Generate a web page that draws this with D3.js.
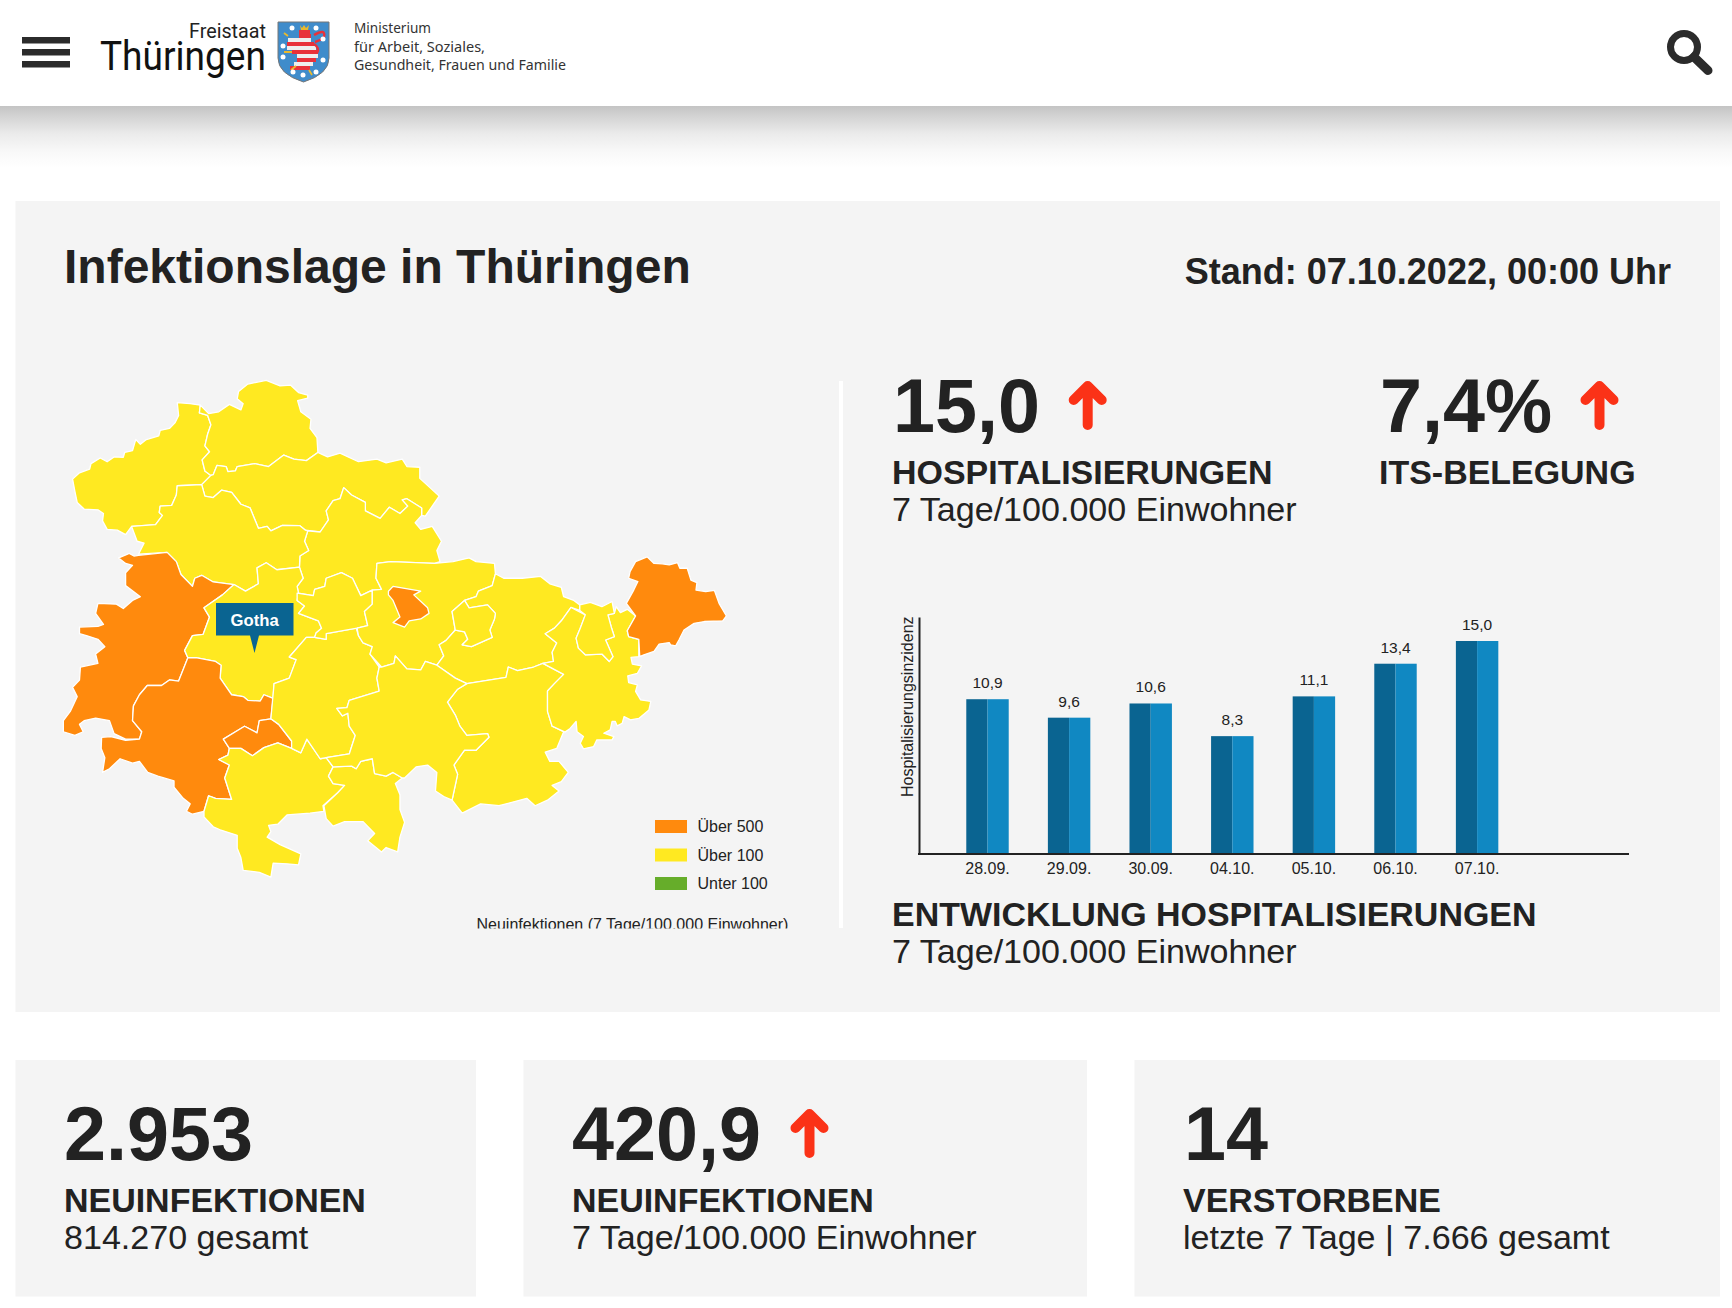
<!DOCTYPE html>
<html lang="de">
<head>
<meta charset="utf-8">
<title>Infektionslage in Thüringen</title>
<script src="https://cdn.jsdelivr.net/npm/d3@7"></script>
<style>
  html, body { margin: 0; background: #fff; }
  svg { display: block; font-family: "Liberation Sans", Arial, sans-serif; }
  .ink { fill: #222; }
  .bold { font-weight: 700; }
</style>
</head>
<body>
<div id="chart"></div>
<script>
// hospitalisation chart data
let dates = ["28.09.", "29.09.", "30.09.", "04.10.", "05.10.", "06.10.", "07.10."];
let hospValues = [10.9, 9.6, 10.6, 8.3, 11.1, 13.4, 15.0];

// legend
let legendLabels = ["Über 500", "Über 100", "Unter 100"];
let legendColors = ["#ff8a0d", "#ffe921", "#66ad2a"];

// map: one level per district (index into legendLabels), outlines in traced map units
let districtNames = ["Eichsfeld", "Nordhausen", "Kyffhäuser", "Sömmerda", "Unstrut-Hainich", "Wartburgkreis",
  "Gotha", "Schmalkalden-Meiningen", "Suhl", "Hildburghausen", "Sonneberg", "Ilm-Kreis", "Erfurt", "Weimarer Land",
  "Weimar", "Saale-Holzland", "Jena", "Saale-Orla", "Saalfeld-Rudolstadt", "Greiz", "Gera", "Altenburger Land"];
let districtLevels = [1, 1, 1, 1, 1, 0, 1, 0, 0, 1, 1, 1, 1, 1, 0, 1, 1, 1, 1, 1, 1, 0];
let districtOutlines = [
  [[352,122],[330,118],[302,115],[305,150],[297,170],[285,185],[265,190],[262,205],[235,215],[222,228],[212,215],[205,245],[188,250],[185,263],[165,262],[150,275],[135,265],[115,280],[112,295],[90,305],[75,322],[80,355],[85,385],[100,403],[130,405],[142,415],[140,435],[150,458],[172,460],[190,472],[203,450],[255,445],[270,420],[263,412],[265,395],[290,393],[300,365],[302,340],[355,337],[375,312],[362,300],[356,270],[372,248],[362,232],[368,200],[375,175],[368,150],[350,143]],
  [[352,122],[370,145],[392,140],[415,120],[440,135],[445,118],[432,105],[435,85],[455,65],[495,55],[525,70],[548,68],[565,88],[585,95],[585,103],[563,110],[570,140],[592,160],[590,185],[605,210],[607,250],[582,272],[555,268],[533,257],[500,288],[470,280],[432,288],[428,300],[412,302],[408,288],[388,285],[380,310],[375,312],[362,300],[356,270],[372,248],[362,232],[368,200],[375,175],[368,150],[350,143]],
  [[375,312],[380,310],[388,285],[408,288],[412,302],[428,300],[432,288],[470,280],[500,288],[533,257],[555,268],[582,272],[607,250],[628,262],[655,252],[695,275],[735,268],[755,278],[790,268],[800,288],[828,290],[828,320],[850,345],[870,368],[855,395],[840,422],[832,420],[832,400],[800,375],[790,378],[802,395],[785,415],[762,398],[742,428],[710,408],[710,385],[680,365],[663,345],[655,375],[640,380],[625,408],[630,432],[612,465],[580,460],[568,448],[530,447],[505,462],[497,450],[478,455],[460,400],[440,390],[420,358],[398,352],[380,372],[362,368],[355,337]],
  [[663,345],[680,365],[710,385],[710,408],[742,428],[762,398],[785,415],[802,395],[790,378],[800,375],[832,400],[832,420],[818,440],[830,458],[855,450],[875,490],[865,515],[872,545],[860,550],[765,545],[735,550],[733,590],[745,620],[725,622],[700,637],[682,590],[658,575],[625,590],[622,612],[600,620],[597,637],[565,630],[562,612],[575,590],[567,560],[568,530],[587,515],[578,490],[585,462],[612,465],[630,432],[625,408],[640,380],[655,375]],
  [[203,450],[255,445],[270,420],[263,412],[265,395],[290,393],[300,365],[302,340],[355,337],[362,368],[380,372],[398,352],[420,358],[440,390],[460,400],[478,455],[497,450],[505,462],[530,447],[568,448],[580,460],[585,462],[578,490],[587,515],[568,530],[567,560],[518,567],[495,548],[475,562],[478,605],[450,625],[425,607],[380,600],[355,582],[340,590],[335,612],[310,580],[300,545],[280,520],[218,525],[230,495],[215,490]],
  [[218,528],[280,520],[300,545],[310,580],[335,612],[340,590],[355,582],[380,600],[425,607],[400,635],[360,670],[372,695],[358,742],[335,745],[318,785],[325,805],[305,868],[285,865],[268,880],[237,880],[220,905],[207,935],[205,975],[225,1005],[220,1025],[190,1025],[165,1010],[155,975],[125,968],[100,975],[90,985],[98,1005],[80,1015],[55,1005],[55,975],[70,950],[85,910],[75,885],[90,865],[92,830],[130,820],[125,795],[145,775],[130,755],[105,745],[90,740],[90,722],[130,720],[142,715],[125,685],[130,658],[170,660],[185,672],[205,650],[222,640],[190,610],[190,575],[205,555],[190,550],[175,535],[198,523],[208,530]],
  [[425,607],[450,625],[478,605],[475,562],[495,548],[518,567],[567,560],[575,590],[562,612],[565,630],[562,650],[578,665],[565,685],[608,705],[615,725],[603,738],[600,750],[582,750],[545,803],[560,810],[545,860],[512,875],[510,915],[490,905],[482,922],[455,920],[445,910],[420,905],[395,860],[397,825],[385,815],[345,805],[325,805],[318,785],[335,745],[358,742],[372,695],[360,670],[400,635]],
  [[325,805],[345,805],[385,815],[397,825],[395,860],[420,905],[445,910],[455,920],[482,922],[490,905],[510,915],[505,970],[480,975],[475,1008],[448,990],[402,1025],[415,1050],[412,1068],[392,1080],[415,1095],[405,1130],[420,1188],[385,1185],[370,1178],[360,1220],[335,1228],[322,1220],[330,1200],[315,1185],[295,1155],[295,1138],[260,1125],[238,1115],[220,1085],[205,1090],[178,1078],[155,1105],[140,1115],[145,1075],[137,1050],[138,1020],[158,1018],[190,1028],[220,1025],[225,1005],[205,975],[207,935],[220,905],[237,880],[268,880],[285,865],[305,868]],
  [[402,1025],[448,990],[475,1008],[480,975],[505,970],[522,985],[550,1030],[550,1050],[520,1035],[490,1048],[465,1070],[440,1050],[415,1050]],
  [[415,1050],[440,1050],[465,1070],[490,1048],[520,1035],[550,1050],[570,1062],[583,1025],[612,1078],[625,1075],[640,1100],[630,1125],[640,1145],[665,1150],[650,1170],[618,1205],[620,1220],[590,1225],[540,1230],[520,1255],[500,1258],[505,1275],[497,1290],[525,1310],[570,1335],[565,1365],[540,1362],[510,1360],[505,1398],[480,1385],[445,1380],[440,1345],[432,1320],[432,1285],[395,1270],[380,1262],[360,1235],[360,1220],[370,1178],[385,1185],[420,1188],[405,1130],[415,1095],[392,1080],[412,1068]],
  [[640,1100],[680,1098],[690,1105],[700,1085],[725,1078],[730,1118],[755,1125],[770,1115],[790,1130],[775,1145],[785,1175],[785,1215],[795,1250],[785,1290],[780,1330],[755,1318],[745,1330],[715,1300],[730,1280],[705,1248],[665,1248],[640,1260],[625,1240],[620,1205],[650,1170],[665,1150],[640,1145],[630,1125]],
  [[582,750],[600,750],[625,755],[625,740],[690,725],[695,745],[705,765],[725,775],[720,795],[740,830],[735,860],[740,895],[675,920],[670,940],[648,942],[660,962],[672,955],[675,990],[688,1015],[675,1065],[625,1075],[612,1078],[583,1025],[570,1062],[550,1050],[550,1030],[522,985],[505,970],[512,875],[545,860],[560,810],[545,803]],
  [[562,630],[597,637],[600,620],[622,612],[625,590],[658,575],[682,590],[700,637],[725,622],[725,660],[708,680],[715,718],[692,725],[625,740],[625,755],[600,750],[603,738],[615,725],[608,705],[565,685],[578,665],[562,650]],
  [[735,550],[765,545],[860,550],[900,545],[935,535],[950,545],[990,550],[992,578],[985,610],[955,625],[950,640],[925,650],[898,680],[905,730],[885,758],[870,770],[880,800],[865,825],[840,815],[830,838],[800,835],[775,800],[772,820],[745,830],[720,795],[725,775],[705,765],[695,745],[692,725],[715,718],[708,680],[725,660],[725,622],[745,620],[733,590]],
  [[760,625],[770,612],[830,625],[815,635],[845,670],[848,685],[830,700],[805,705],[795,722],[770,710],[785,695],[770,650],[760,635]],
  [[992,578],[1010,590],[1050,590],[1090,585],[1110,605],[1135,615],[1140,640],[1162,650],[1175,662],[1175,677],[1156,669],[1135,705],[1120,725],[1100,740],[1125,765],[1115,790],[1118,815],[1095,820],[1075,830],[1040,840],[1020,830],[1015,858],[930,875],[905,860],[865,825],[880,800],[870,770],[885,758],[905,730],[925,735],[932,755],[920,770],[940,775],[985,750],[980,730],[990,700],[992,685],[975,662],[935,670],[925,650],[950,640],[955,625],[985,610]],
  [[925,650],[935,670],[975,662],[992,685],[990,700],[980,730],[985,750],[940,775],[920,770],[932,755],[925,735],[905,730],[898,680]],
  [[1015,858],[1020,830],[1040,840],[1075,830],[1095,820],[1140,850],[1120,875],[1105,895],[1105,950],[1115,990],[1140,1005],[1125,1050],[1100,1060],[1110,1085],[1130,1085],[1150,1115],[1135,1140],[1115,1150],[1130,1165],[1105,1190],[1078,1205],[1060,1185],[1000,1205],[960,1200],[920,1225],[898,1190],[910,1120],[902,1095],[925,1055],[950,1055],[978,1020],[975,1010],[930,1015],[915,990],[905,960],[888,925],[910,890],[930,875]],
  [[740,895],[735,860],[740,830],[745,830],[772,820],[775,800],[800,835],[830,838],[840,815],[865,825],[905,860],[930,875],[910,890],[888,925],[905,960],[915,990],[930,1015],[975,1010],[978,1020],[950,1055],[925,1055],[902,1095],[910,1120],[898,1190],[880,1180],[862,1165],[865,1115],[845,1095],[820,1100],[795,1130],[790,1130],[770,1115],[755,1125],[730,1118],[725,1078],[700,1085],[690,1105],[680,1098],[640,1100],[625,1075],[675,1065],[688,1015],[675,990],[672,955],[660,962],[648,942],[670,940],[675,920]],
  [[1095,820],[1118,815],[1115,790],[1125,765],[1100,740],[1120,725],[1135,705],[1156,669],[1187,689],[1176,725],[1167,752],[1172,779],[1187,797],[1223,795],[1239,815],[1247,802],[1231,757],[1250,748],[1243,721],[1236,689],[1250,685],[1254,667],[1263,683],[1278,674],[1296,692],[1278,732],[1281,748],[1303,755],[1303,802],[1286,804],[1289,822],[1309,827],[1300,847],[1279,854],[1281,872],[1300,878],[1296,896],[1307,919],[1329,923],[1325,946],[1303,969],[1285,973],[1271,964],[1267,982],[1256,989],[1252,977],[1245,977],[1241,1000],[1227,1009],[1249,1018],[1245,1027],[1212,1027],[1205,1045],[1183,1051],[1176,1036],[1183,1018],[1169,1005],[1167,977],[1154,996],[1143,1006],[1115,990],[1105,950],[1105,895],[1120,875],[1140,850]],
  [[1175,662],[1198,655],[1223,667],[1245,653],[1250,685],[1236,689],[1243,721],[1250,748],[1231,757],[1247,802],[1239,815],[1223,795],[1187,797],[1172,779],[1167,752],[1176,725],[1187,689],[1175,677]],
  [[1281,590],[1284,572],[1296,545],[1321,532],[1336,550],[1354,551],[1369,554],[1387,548],[1392,563],[1408,563],[1416,595],[1429,602],[1427,622],[1448,626],[1467,623],[1477,658],[1493,692],[1485,705],[1445,707],[1423,712],[1401,730],[1390,757],[1383,773],[1372,770],[1369,764],[1347,768],[1336,788],[1314,797],[1305,802],[1303,755],[1281,748],[1278,732],[1296,692],[1276,658],[1292,622],[1301,599]]
];

// text blocks
let kpiTop = [
  { value: "15,0", x: 893, arrow: 1087.7, title: "HOSPITALISIERUNGEN", sub: "7 Tage/100.000 Einwohner" },
  { value: "7,4%", x: 1380, arrow: 1599.5, title: "ITS-BELEGUNG", sub: "" }
];
let kpiBottom = [
  { value: "2.953", x: 64, textX: 64, title: "NEUINFEKTIONEN", sub: "814.270 gesamt", panel: [15.5, 476] },
  { value: "420,9", x: 572, textX: 572, arrow: 809.5, title: "NEUINFEKTIONEN", sub: "7 Tage/100.000 Einwohner", panel: [523.5, 1087] },
  { value: "14", x: 1184, textX: 1183, title: "VERSTORBENE", sub: "letzte 7 Tage | 7.666 gesamt", panel: [1134.5, 1720] }
];

let svgWidth = 1732;
let svgHeight = 1308;

let svg = d3.select("#chart")
  .append("svg")
  .attr("width", svgWidth)
  .attr("height", svgHeight);
let defs = svg.append("defs");

function addText(parent, str, x, y, size, cls, anchor) {
  return parent.append("text")
    .attr("x", x).attr("y", y)
    .attr("font-size", size)
    .attr("class", cls || "ink")
    .attr("text-anchor", anchor || "start")
    .text(str);
}

// red trend arrow, cx = shaft centre, top/bottom = tip and foot
function addArrow(parent, cx, top, bottom) {
  parent.append("path")
    .attr("d", `M${cx - 14},${top + 20}L${cx},${top + 6}L${cx + 14},${top + 20}M${cx},${top + 8}V${bottom - 5}`)
    .attr("fill", "none")
    .attr("stroke", "#fb3217")
    .attr("stroke-width", 10)
    .attr("stroke-linejoin", "round")
    .attr("stroke-linecap", "round");
}

/********************************************/
drawHeader();
drawPanels();
drawMap();
drawBars();
drawKpis();

/********************************************/
function drawHeader() {
  let grad = defs.append("linearGradient").attr("id", "shadow")
    .attr("x1", 0).attr("x2", 0).attr("y1", 0).attr("y2", 1);
  [[0, "#c4c4c4"], [0.2, "#d6d6d6"], [0.45, "#ebebeb"], [0.75, "#f9f9f9"], [1, "#ffffff"]].forEach(s => {
    grad.append("stop").attr("offset", s[0]).attr("stop-color", s[1]);
  });
  svg.append("rect").attr("x", 0).attr("y", 106).attr("width", svgWidth).attr("height", 62).attr("fill", "url(#shadow)");

  // hamburger
  [37, 49, 61].forEach(y => {
    svg.append("rect").attr("x", 22).attr("y", y).attr("width", 48).attr("height", 6.5).attr("fill", "#2b2b2b");
  });

  // wordmark
  svg.append("text").attr("x", 266).attr("y", 38).attr("text-anchor", "end")
    .attr("font-family", "Roboto").attr("font-weight", 400).attr("font-size", 21)
    .attr("fill", "#222").attr("textLength", 77).attr("lengthAdjust", "spacingAndGlyphs").text("Freistaat");
  svg.append("text").attr("x", 100).attr("y", 70)
    .attr("font-family", "Roboto").attr("font-weight", 400).attr("font-size", 41)
    .attr("fill", "#111").attr("textLength", 166).attr("lengthAdjust", "spacingAndGlyphs").text("Thüringen");

  // coat of arms
  let shield = "M278,22H329V58Q329,74 303.5,82Q278,74 278,58Z";
  defs.append("clipPath").attr("id", "shieldClip").append("path").attr("d", shield);
  svg.append("path").attr("d", shield).attr("fill", "#3f8ccb").attr("stroke", "#777").attr("stroke-width", 1);
  let lion = svg.append("g").attr("clip-path", "url(#shieldClip)");
  lion.append("path").attr("d", "M300,25L302,28L304,25L306,28L309,25L308,30H301Z").attr("fill", "#e9b92e");
  [[30, 299, 310, "#e8313a"], [34, 299, 311, "#e8313a"], [38, 288, 311, "#eeeeee"], [42, 287, 314, "#e8313a"], [46, 287, 316, "#eeeeee"],
   [50, 292, 318, "#e8313a"], [54, 297, 318, "#eeeeee"], [58, 297, 316, "#e8313a"], [62, 294, 313, "#eeeeee"], [66, 290, 310, "#e8313a"]].forEach(b => {
    lion.append("rect").attr("x", b[1]).attr("y", b[0]).attr("width", b[2] - b[1]).attr("height", 4).attr("fill", b[3]);
  });
  lion.append("path").attr("d", "M314,35Q326,28 324,37Q320,41 315,42M314,44Q320,48 317,53").attr("fill", "none").attr("stroke", "#e8313a").attr("stroke-width", 2.4);
  lion.append("path").attr("d", "M291,70L296,66M288,36L284,33M284,52L292,52M309,70L312,75").attr("stroke", "#e9b92e").attr("stroke-width", 1.8);
  [[292, 28], [316, 28], [323, 39], [283, 46], [323, 60], [283, 57], [293, 72], [303, 75], [316, 72]].forEach(p => {
    lion.append("circle").attr("cx", p[0]).attr("cy", p[1]).attr("r", 2.5).attr("fill", "#fff");
  });

  // ministry lines
  [["Ministerium", 33, 77], ["für Arbeit, Soziales,", 52, 131], ["Gesundheit, Frauen und Familie", 70, 212]].forEach(l => {
    svg.append("text").attr("x", 354).attr("y", l[1])
      .attr("font-family", "Noto Sans").attr("font-size", 14).attr("fill", "#333")
      .attr("textLength", l[2]).attr("lengthAdjust", "spacingAndGlyphs").text(l[0]);
  });

  // search
  svg.append("circle").attr("cx", 1684).attr("cy", 47).attr("r", 13.5)
    .attr("fill", "none").attr("stroke", "#2b2b2b").attr("stroke-width", 7);
  svg.append("line").attr("x1", 1694).attr("y1", 57).attr("x2", 1708).attr("y2", 70.5)
    .attr("stroke", "#2b2b2b").attr("stroke-width", 9).attr("stroke-linecap", "round");
}

/********************************************/
function drawPanels() {
  svg.append("rect").attr("x", 15.5).attr("y", 201).attr("width", 1704.5).attr("height", 811).attr("fill", "#f4f4f4");
  kpiBottom.forEach(k => {
    svg.append("rect").attr("x", k.panel[0]).attr("y", 1060).attr("width", k.panel[1] - k.panel[0]).attr("height", 236.5).attr("fill", "#f4f4f4");
  });
  addText(svg, "Infektionslage in Thüringen", 64, 283, 48, "ink bold");
  addText(svg, "Stand: 07.10.2022, 00:00 Uhr", 1671, 284, 36, "ink bold", "end");
  svg.append("rect").attr("x", 839).attr("y", 381).attr("width", 4).attr("height", 547).attr("fill", "#fff");
}

/********************************************/
function drawMap() {
  let xMap = d3.scaleLinear().domain([0, 1568]).range([38, 761]);
  let yMap = d3.scaleLinear().domain([0, 1568]).range([360, 940]);
  let outline = d3.line().x(d => xMap(d[0])).y(d => yMap(d[1]));

  svg.append("g").selectAll("path")
    .data(districtOutlines)
    .enter()
    .append("path")
    .attr("d", d => outline(d) + "Z")
    .attr("data-name", (d, i) => districtNames[i])
    .attr("fill", (d, i) => legendColors[districtLevels[i]])
    .attr("stroke", "#ffffff")
    .attr("stroke-width", 1.3)
    .attr("stroke-linejoin", "round");

  // Gotha tooltip
  let gothaIndex = districtNames.indexOf("Gotha");
  let tip = svg.append("g").attr("data-for", districtNames[gothaIndex]);
  tip.append("path").attr("d", "M216,603H293.5V635.6H259L254.5,653L250,635.6H216Z").attr("fill", "#0a6491");
  addText(tip, "Gotha", 254.7, 625.5, 16.7, "bold", "middle").attr("fill", "#fff");

  // legend
  let legendY = d3.scalePoint().domain(legendLabels).range([826.5, 883.5]);
  let legend = svg.append("g").selectAll("g").data(legendLabels).enter().append("g");
  legend.append("rect")
    .attr("x", 655).attr("y", d => legendY(d) - 6.5)
    .attr("width", 32).attr("height", 13)
    .attr("fill", (d, i) => legendColors[i]);
  legend.append("text")
    .attr("x", 697.5).attr("y", d => legendY(d) + 5.5)
    .attr("font-size", 16).attr("class", "ink")
    .text(d => d);

  defs.append("clipPath").attr("id", "captionClip").append("rect").attr("x", 400).attr("y", 900).attr("width", 438).attr("height", 28.5);
  addText(svg.append("g").attr("clip-path", "url(#captionClip)"), "Neuinfektionen (7 Tage/100.000 Einwohner)", 476.5, 929.5, 16);
}

/********************************************/
function drawBars() {
  let xScale = d3.scaleBand().domain(dates).range([946.7, 1517.9]).paddingInner(0.48).paddingOuter(0.24);
  let yScale = d3.scaleLinear().domain([0, 15]).range([854, 641]);
  let g = svg.append("g");
  let half = xScale.bandwidth() / 2;

  let bars = g.selectAll("g.bar").data(dates).enter().append("g").attr("class", "bar");
  bars.append("rect")
    .attr("x", d => xScale(d)).attr("width", half)
    .attr("y", (d, i) => yScale(hospValues[i]))
    .attr("height", (d, i) => yScale(0) - yScale(hospValues[i]))
    .attr("fill", "#0a6491");
  bars.append("rect")
    .attr("x", d => xScale(d) + half).attr("width", half)
    .attr("y", (d, i) => yScale(hospValues[i]))
    .attr("height", (d, i) => yScale(0) - yScale(hospValues[i]))
    .attr("fill", "#1088c2");
  bars.append("text")
    .attr("x", d => xScale(d) + half)
    .attr("y", (d, i) => yScale(hospValues[i]) - 11)
    .attr("text-anchor", "middle").attr("font-size", 15.5).attr("class", "ink")
    .text((d, i) => d3.format(".1f")(hospValues[i]).replace(".", ","));

  let xAxis = d3.axisBottom(xScale).tickSize(0).tickPadding(9);
  let xG = g.append("g").attr("transform", "translate(0,854)").call(xAxis);
  xG.select(".domain").remove();
  xG.selectAll("text").attr("font-size", 16).attr("font-family", "Liberation Sans").attr("fill", "#222");

  let yAxis = d3.axisLeft(yScale.copy().domain([0, 16.69]).range([854, 617])).tickValues([]).tickSize(0);
  let yG = g.append("g").attr("transform", "translate(919,0)").call(yAxis);
  yG.select(".domain").attr("stroke", "#222").attr("stroke-width", 2);

  g.append("line").attr("x1", 918).attr("x2", 1629).attr("y1", 854).attr("y2", 854)
    .attr("stroke", "#222").attr("stroke-width", 2);

  addText(g, "Hospitalisierungsinzidenz", 0, 0, 16, "ink")
    .attr("x", null).attr("y", null)
    .attr("transform", "translate(913,797) rotate(-90)");

  addText(svg, "ENTWICKLUNG HOSPITALISIERUNGEN", 892, 926, 33.96, "ink bold");
  addText(svg, "7 Tage/100.000 Einwohner", 892, 963, 34.07);
}

/********************************************/
function drawKpis() {
  kpiTop.forEach(k => {
    addText(svg, k.value, k.x, 432, 75.5, "ink bold");
    addText(svg, k.title, k.x - 1, 484, 33.96, "ink bold");
    if (k.sub) addText(svg, k.sub, k.x - 1, 521, 34.07);
    addArrow(svg, k.arrow, 380, 430);
  });
  kpiBottom.forEach(k => {
    addText(svg, k.value, k.x, 1160, 75.5, "ink bold");
    addText(svg, k.title, k.textX, 1212, 33.96, "ink bold");
    addText(svg, k.sub, k.textX, 1249, 34.07);
    if (k.arrow) addArrow(svg, k.arrow, 1108, 1158);
  });
}
</script>
</body>
</html>
